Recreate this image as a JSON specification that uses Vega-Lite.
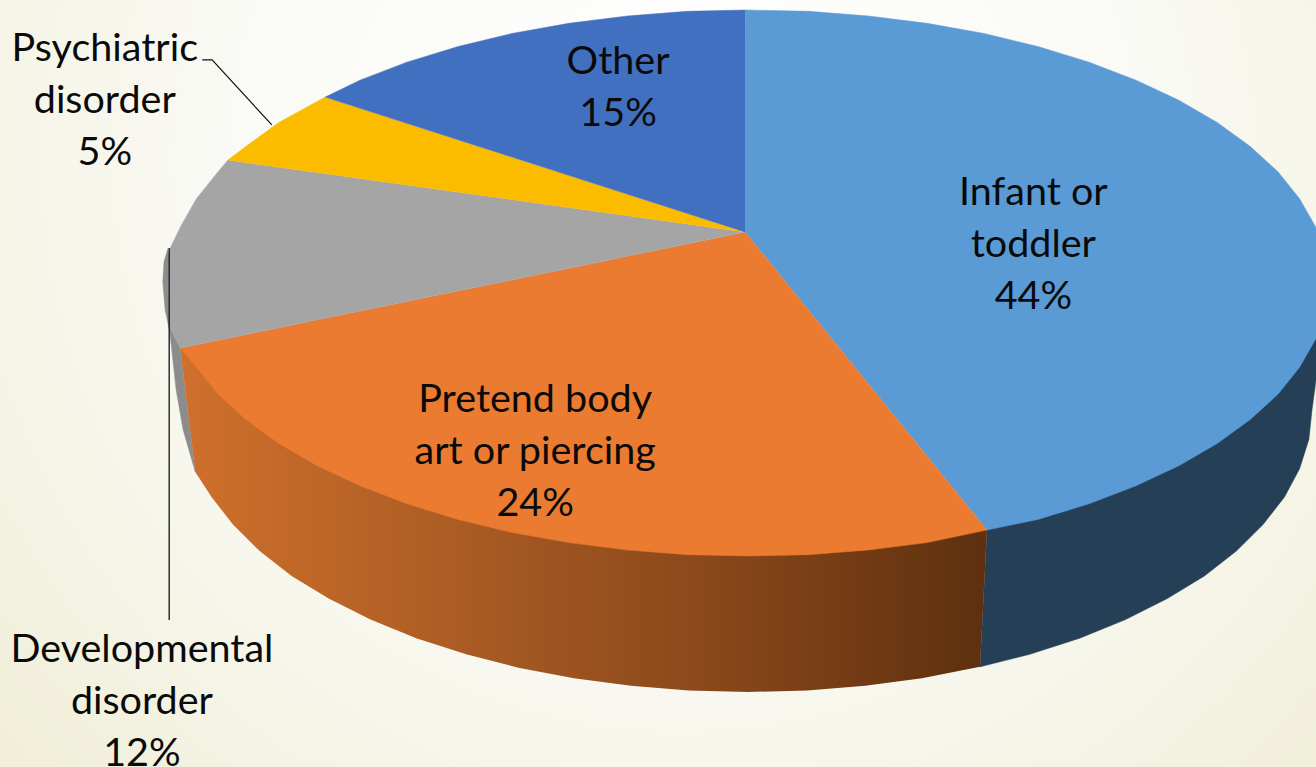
{"$schema":"https://vega.github.io/schema/vega-lite/v6.json","width":1316,"height":767,"padding":0,"autosize":{"type":"fit","contains":"padding"},"background":"#ffffff","config":{"view":{"stroke":null}},
"datasets":{
"bg":[{"x":-128.97,"x2":97.93,"y":-177.29,"y2":103.66}],
"labels":[
{"label":"Infant or\ntoddler\n44%","x":49.2,"y":33.0},
{"label":"Pretend body\nart or piercing\n24%","x":-36.7,"y":-42.9},
{"label":"Other\n15%","x":-22.4,"y":81.0},
{"label":"Psychiatric\ndisorder\n5%","x":-110.9,"y":85.7},
{"label":"Developmental\ndisorder\n12%","x":-104.5,"y":-134.4}],
"blueWall":[{"i":0,"x":99.5,"y":-10.5},{"i":1,"x":97.24,"y":-46.52},{"i":2,"x":96.7,"y":-57.3},{"i":3,"x":95.1,"y":-68},{"i":4,"x":92.5,"y":-78.4},{"i":5,"x":88.8,"y":-88.5},{"i":6,"x":84.2,"y":-98.2},{"i":7,"x":78.7,"y":-107.3},{"i":8,"x":72.3,"y":-115.6},{"i":9,"x":65.1,"y":-123.3},{"i":10,"x":57.2,"y":-130.1},{"i":11,"x":48.6,"y":-136},{"i":12,"x":40,"y":-140.6},{"i":13,"x":41.2,"y":-90.5}],
"orangeWall":[{"i":0,"x":41.2,"y":-90.5},{"i":1,"x":40,"y":-140.6},{"i":2,"x":30,"y":-144.8},{"i":3,"x":20.2,"y":-147.5},{"i":4,"x":10.2,"y":-149.3},{"i":5,"x":0,"y":-149.8},{"i":6,"x":-10.2,"y":-149.3},{"i":7,"x":-20.2,"y":-147.5},{"i":8,"x":-30,"y":-144.8},{"i":9,"x":-39.6,"y":-140.9},{"i":10,"x":-48.6,"y":-136},{"i":11,"x":-57.2,"y":-130.1},{"i":12,"x":-65.1,"y":-123.3},{"i":13,"x":-72.3,"y":-115.6},{"i":14,"x":-78.7,"y":-107.3},{"i":15,"x":-84.2,"y":-98.2},{"i":16,"x":-88.8,"y":-88.5},{"i":17,"x":-92.5,"y":-78.4},{"i":18,"x":-95.3,"y":-69.2},{"i":19,"x":-97.9,"y":-23.8}],
"greyWall":[{"i":0,"x":-100,"y":12.8},{"i":1,"x":-100.7,"y":7.7},{"i":2,"x":-100.9,"y":0.4},{"i":3,"x":-100.5,"y":-9.9},{"i":4,"x":-99.7,"y":-17.9},{"i":5,"x":-98.6,"y":-39.2},{"i":6,"x":-97.4,"y":-53.8},{"i":7,"x":-95.3,"y":-69.2},{"i":8,"x":-97.9,"y":-23.8}],
"infant":[{"i":0,"x":-0.52,"y":18.68},{"i":1,"x":-0.5,"y":100},{"i":2,"x":10.5,"y":99.5},{"i":3,"x":20.8,"y":97.8},{"i":4,"x":30.9,"y":95.1},{"i":5,"x":40.7,"y":91.4},{"i":6,"x":50,"y":86.6},{"i":7,"x":58.8,"y":80.9},{"i":8,"x":66.9,"y":74.3},{"i":9,"x":74.3,"y":66.9},{"i":10,"x":80.9,"y":58.8},{"i":11,"x":86.6,"y":50},{"i":12,"x":91.4,"y":40.7},{"i":13,"x":95.1,"y":30.9},{"i":14,"x":97.8,"y":20.8},{"i":15,"x":99.5,"y":10.5},{"i":16,"x":100,"y":0},{"i":17,"x":99.5,"y":-10.5},{"i":18,"x":97.8,"y":-20.8},{"i":19,"x":95.1,"y":-30.9},{"i":20,"x":91.4,"y":-40.7},{"i":21,"x":86.6,"y":-50},{"i":22,"x":80.9,"y":-58.8},{"i":23,"x":74.3,"y":-66.9},{"i":24,"x":66.9,"y":-74.3},{"i":25,"x":58.8,"y":-80.9},{"i":26,"x":50,"y":-86.6},{"i":27,"x":41.2,"y":-90.5}],
"pretend":[{"i":0,"x":-0.52,"y":18.68},{"i":1,"x":41.2,"y":-90.5},{"i":2,"x":30.9,"y":-95.1},{"i":3,"x":20.8,"y":-97.8},{"i":4,"x":10.5,"y":-99.5},{"i":5,"x":0,"y":-100},{"i":6,"x":-10.5,"y":-99.5},{"i":7,"x":-20.8,"y":-97.8},{"i":8,"x":-30.9,"y":-95.1},{"i":9,"x":-40.7,"y":-91.4},{"i":10,"x":-50,"y":-86.6},{"i":11,"x":-58.8,"y":-80.9},{"i":12,"x":-66.9,"y":-74.3},{"i":13,"x":-74.3,"y":-66.9},{"i":14,"x":-80.9,"y":-58.8},{"i":15,"x":-86.6,"y":-50},{"i":16,"x":-91.4,"y":-40.7},{"i":17,"x":-95.1,"y":-30.9},{"i":18,"x":-97.9,"y":-23.8}],
"developmental":[{"i":0,"x":-0.52,"y":18.68},{"i":1,"x":-97.9,"y":-23.8},{"i":2,"x":-99.8,"y":-16.1},{"i":3,"x":-100,"y":-2.6},{"i":4,"x":-99.8,"y":12},{"i":5,"x":-97.8,"y":20.8},{"i":6,"x":-95.1,"y":30.9},{"i":7,"x":-91.4,"y":40.7},{"i":8,"x":-89.66,"y":45.05}],
"psychiatric":[{"i":0,"x":-0.52,"y":18.68},{"i":1,"x":-89.66,"y":45.05},{"i":2,"x":-86.6,"y":50},{"i":3,"x":-80.9,"y":58.8},{"i":4,"x":-72.9,"y":68.1}],
"other":[{"i":0,"x":-0.52,"y":18.68},{"i":1,"x":-72.9,"y":68.1},{"i":2,"x":-66.9,"y":74.3},{"i":3,"x":-58.8,"y":80.9},{"i":4,"x":-50,"y":86.6},{"i":5,"x":-40.7,"y":91.4},{"i":6,"x":-30.9,"y":95.1},{"i":7,"x":-20.8,"y":97.8},{"i":8,"x":-10.5,"y":99.5},{"i":9,"x":-0.5,"y":100}],
"leader1":[{"i":0,"x":-94.1,"y":81.7},{"i":1,"x":-92.4,"y":81.7},{"i":2,"x":-82.1,"y":57.9}],
"leader2":[{"i":0,"x":-99.8,"y":12.8},{"i":1,"x":-99.8,"y":-123.4}]
},
"encoding":{
"x":{"field":"x","type":"quantitative","axis":null,"scale":{"domain":[-128.97,97.93],"nice":false,"zero":false}},
"y":{"field":"y","type":"quantitative","axis":null,"scale":{"domain":[-177.29,103.66],"nice":false,"zero":false}}
},
"layer":[
{"data":{"name":"bg"},"mark":{"type":"rect","clip":true,"color":{"gradient":"radial","x1":0.52,"y1":0.33,"r1":0,"x2":0.52,"y2":0.33,"r2":0.68,"stops":[{"offset":0,"color":"#ffffff"},{"offset":0.5,"color":"#fafaf6"},{"offset":1,"color":"#f1efd9"}]}},"encoding":{"x2":{"field":"x2"},"y2":{"field":"y2"}}},
{"data":{"name":"blueWall"},"mark":{"type":"line","clip":true,"fill":"#243f56","stroke":"#243f56","strokeWidth":0.5},"encoding":{"order":{"field":"i"}}},
{"data":{"name":"greyWall"},"mark":{"type":"line","clip":true,"fill":"#8c8c8c","stroke":"#8c8c8c","strokeWidth":0.5},"encoding":{"order":{"field":"i"}}},
{"data":{"name":"orangeWall"},"mark":{"type":"line","clip":true,"stroke":null,"fill":{"gradient":"linear","x1":0,"y1":0,"x2":1,"y2":0,"stops":[{"offset":0,"color":"#cf702c"},{"offset":0.3,"color":"#b05f25"},{"offset":0.65,"color":"#8a481b"},{"offset":1,"color":"#5e300f"}]}},"encoding":{"order":{"field":"i"}}},
{"data":{"name":"infant"},"mark":{"type":"line","clip":true,"fill":"#5b9bd5","stroke":"#5b9bd5","strokeWidth":0.5},"encoding":{"order":{"field":"i"}}},
{"data":{"name":"pretend"},"mark":{"type":"line","clip":true,"fill":"#ea7b30","stroke":"#ea7b30","strokeWidth":0.5},"encoding":{"order":{"field":"i"}}},
{"data":{"name":"developmental"},"mark":{"type":"line","clip":true,"fill":"#a5a5a5","stroke":"#a5a5a5","strokeWidth":0.5},"encoding":{"order":{"field":"i"}}},
{"data":{"name":"psychiatric"},"mark":{"type":"line","clip":true,"fill":"#fbbc00","stroke":"#fbbc00","strokeWidth":0.5},"encoding":{"order":{"field":"i"}}},
{"data":{"name":"other"},"mark":{"type":"line","clip":true,"fill":"#4270c0","stroke":"#4270c0","strokeWidth":0.5},"encoding":{"order":{"field":"i"}}},
{"data":{"name":"leader1"},"mark":{"type":"line","clip":true,"stroke":"#111111","strokeWidth":1.2},"encoding":{"order":{"field":"i"}}},
{"data":{"name":"leader2"},"mark":{"type":"line","clip":true,"stroke":"#111111","strokeWidth":1.3},"encoding":{"order":{"field":"i"}}},
{"data":{"name":"labels"},"mark":{"type":"text","clip":true,"font":"Lato","fontSize":39.5,"lineBreak":"\n","lineHeight":52,"align":"center","baseline":"middle","color":"#0a0a0a"},"encoding":{"text":{"field":"label"}}}
]}
